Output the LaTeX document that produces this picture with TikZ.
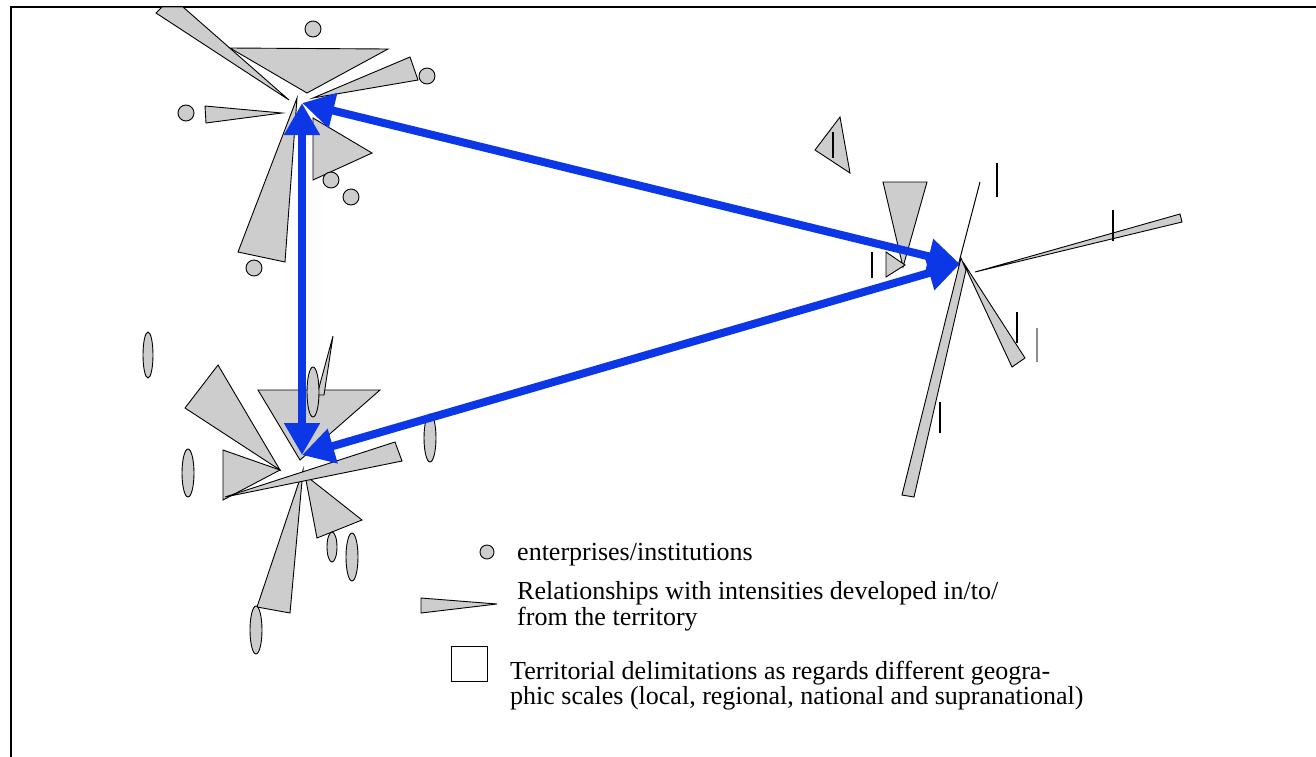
\documentclass[tikz,border=0pt]{standalone}
\usepackage{fontspec}
\setmainfont{Liberation Serif}
\usetikzlibrary{arrows.meta}
\definecolor{wedgegray}{RGB}{205,205,205}
\definecolor{linkblue}{RGB}{12,55,230}
\begin{document}
\begin{tikzpicture}[x=1pt,y=-1pt,
  wedge/.style={draw=black,line width=0.9pt,fill=wedgegray,line join=miter},
  firm/.style={draw=black,line width=0.9pt,fill=wedgegray},
  tick/.style={draw=black,line width=1.8pt},
  lighttick/.style={draw=black!45,line width=1.8pt},
  link/.style={draw=linkblue,line width=8pt,>={Triangle[length=32pt,width=34pt]}},
  legendtext/.style={font=\fontsize{26}{26}\selectfont,anchor=base west,inner sep=0pt}
]
\useasboundingbox (0,0) rectangle (1316,756);
% frame
\draw[line width=2.5pt] (11,770) -- (11,7) -- (1330,7);

% ---------- top-left cluster ----------
\draw[wedge] (156,13) -- (162,7) -- (183,7) -- (289,100) -- cycle;
\draw[wedge] (230,48) -- (388,49) -- (307,93) -- cycle;
\draw[wedge] (313,98) -- (410,57) -- (418,80) -- cycle;
\draw[wedge] (205,106) -- (206,123) -- (282,113) -- cycle;
\draw[wedge] (297,98) -- (238,252) -- (285,262) -- cycle;
\draw[wedge] (313,118) -- (372,153) -- (313,180) -- cycle;
\draw[firm] (313,29) circle [radius=8pt];
\draw[firm] (427,76) circle [radius=8pt];
\draw[firm] (186,113) circle [radius=8pt];
\draw[firm] (331,180) circle [radius=8pt];
\draw[firm] (351,197) circle [radius=8pt];
\draw[firm] (254,268) circle [radius=8pt];

% ---------- bottom-left cluster ----------
\draw[firm] (148,355) ellipse [x radius=5pt,y radius=23pt];
\draw[wedge] (185,408) -- (218,365) -- (280,470) -- cycle;
\draw[wedge] (223,450) -- (223,500) -- (280,470) -- cycle;
\draw[wedge] (258,390) -- (380,390) -- (300,460) -- cycle;
\draw[wedge] (333,336) -- (317,395) -- (324,395) -- cycle;
\draw[firm] (313,392) ellipse [x radius=6pt,y radius=25pt];
\draw[wedge] (303,470) -- (257,607) -- (290,613) -- cycle;
\draw[wedge] (305,475) -- (317,538) -- (362,520) -- cycle;
\draw[wedge] (225,497) -- (395,442) -- (402,461) -- cycle;
\draw[firm] (188,473) ellipse [x radius=6pt,y radius=24pt];
\draw[firm] (430,438) ellipse [x radius=6pt,y radius=24pt];
\draw[firm] (332,547) ellipse [x radius=5pt,y radius=15pt];
\draw[firm] (352,557) ellipse [x radius=6pt,y radius=24pt];
\draw[firm] (256,630) ellipse [x radius=6pt,y radius=24pt];

% ---------- right cluster ----------
\draw[wedge] (815,150) -- (840,117) -- (850,173) -- cycle;
\draw[tick] (833,132) -- (833,158);
\draw[wedge] (883,182) -- (927,182) -- (903,267) -- cycle;
\draw[wedge] (886,252) -- (886,277) -- (905,265) -- cycle;
\draw[tick] (872,252) -- (872,278);
\draw[line width=1pt] (980,182) -- (958,266);
\draw[wedge] (961,258) -- (902,495) -- (914,497) -- (966,270) -- cycle;
\draw[wedge] (963,262) -- (1012,367) -- (1025,358) -- cycle;
\draw[wedge] (975,272) -- (1180,214) -- (1182,222) -- cycle;
\draw[tick] (997,163) -- (997,197);
\draw[tick] (1113,210) -- (1113,241);
\draw[tick] (1017,312) -- (1017,343);
\draw[lighttick] (1037,328) -- (1037,362);
\draw[tick] (940,402) -- (940,433);

% ---------- links ----------
\coordinate (A) at (302,103);
\coordinate (B) at (302,455);
\coordinate (C) at (960,264);
\draw[link,<->] (A) -- (B);
\draw[link,<->] (A) -- (C);
\draw[link,<->] (B) -- (C);

% ---------- legend ----------
\draw[firm] (487,552) circle [radius=7pt];
\draw[wedge] (421,598) -- (421,613) -- (497,604) -- cycle;
\draw[line width=1pt] (451,646) rectangle (487,681);
\node[legendtext] (l1) at (517,560) {enterprises/institutions};
\node[legendtext] (l2) at (517,599) {Relationships with intensities developed in/to/};
\node[legendtext] (l3) at (517,625) {from the territory};
\node[legendtext] (l4) at (510,679) {Territorial delimitations as regards different geogra-};
\node[legendtext] (l5) at (510,704) {phic scales (local, regional, national and supranational)};
\end{tikzpicture}
\end{document}
